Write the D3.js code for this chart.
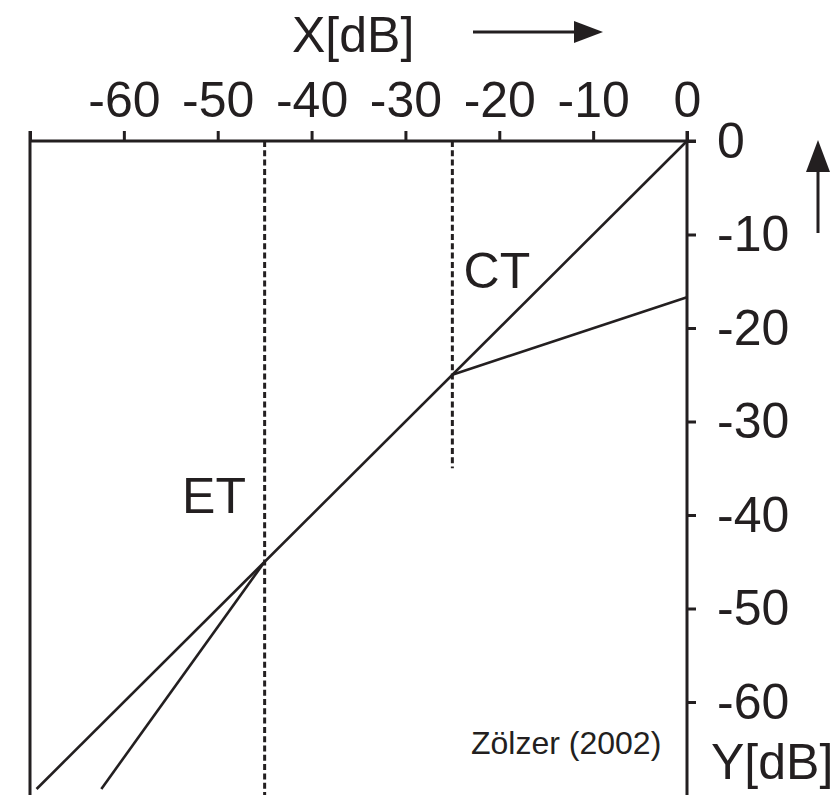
<!DOCTYPE html>
<html>
<head>
<meta charset="utf-8">
<script src="https://cdn.jsdelivr.net/npm/d3@7"></script>
<style>
  html, body { margin: 0; padding: 0; background: #fff; }
  svg { display: block; }
  text { font-family: "Liberation Sans", Arial, Helvetica, sans-serif; fill: #231f20; }
</style>
</head>
<body>
<svg id="chart" width="834" height="795"></svg>
<script>
// Static characteristic of a dynamics processor: input level X vs output level Y (dB)
const xTicks = [-70, -60, -50, -40, -30, -20, -10, 0];
const yTicks = [0, -10, -20, -30, -40, -50, -60];

// Curve segments, [input dB, output dB]
const unityLine      = [[0, 0], [-69.3, -69.3]];
const compressorLine = [[-25, -25], [0, -16.7]];
const expanderLine   = [[-45, -45], [-62.4, -69.3]];

// Thresholds: expander (ET) and compressor (CT)
const thresholds = [
  { name: "ET", x: -45, yEnd: -70 },
  { name: "CT", x: -25, yEnd: -35 }
];
const thresholdLabels = [
  { name: "ET", x: -53.8, y: -39.8 },
  { name: "CT", x: -23.8, y: -15.7 }
];
const sourceNote = "Zölzer (2002)";

const svg = d3.select("#chart");
const ink = "#231f20";

const x = d3.scaleLinear().domain([-70, 0]).range([30, 687]);
const y = d3.scaleLinear().domain([-70, 0]).range([795.5, 141]);

// Top axis (input level)
const xAxis = d3.axisTop(x)
  .tickValues(xTicks)
  .tickSize(10)
  .tickPadding(14)
  .tickFormat(d => d === -70 ? "" : String(d));
const gx = svg.append("g").attr("transform", `translate(0,${y(0)})`).call(xAxis);
gx.select(".domain").attr("d", `M${x(-70)},0H${x(0) + 9}`);

// Right axis (output level)
const yAxis = d3.axisRight(y)
  .tickValues(yTicks)
  .tickSize(9)
  .tickPadding(21)
  .tickFormat(d => String(d));
const gy = svg.append("g").attr("transform", `translate(${x(0)},0)`).call(yAxis);
gy.select(".domain").attr("d", `M0,${y(0) - 10}V795`);

// Left frame line
svg.append("line")
  .attr("x1", x(-70)).attr("x2", x(-70))
  .attr("y1", y(0) - 10).attr("y2", 795)
  .attr("stroke", ink).attr("stroke-width", 3);

[gx, gy].forEach(g => {
  g.attr("font-family", null).attr("font-size", null);
  g.selectAll(".domain, .tick line").attr("stroke", ink).attr("stroke-width", 3);
  g.selectAll(".tick text")
    .attr("fill", ink)
    .style("font-size", "50px");
});

// Threshold markers
svg.append("g").selectAll("line")
  .data(thresholds)
  .join("line")
  .attr("x1", d => x(d.x)).attr("x2", d => x(d.x))
  .attr("y1", y(0)).attr("y2", d => y(d.yEnd))
  .attr("stroke", ink)
  .attr("stroke-width", 3)
  .attr("stroke-dasharray", "6,3.3");

// Characteristic curves
const line = d3.line().x(d => x(d[0])).y(d => y(d[1]));
svg.append("g").selectAll("path")
  .data([unityLine, compressorLine, expanderLine])
  .join("path")
  .attr("d", line)
  .attr("fill", "none")
  .attr("stroke", ink)
  .attr("stroke-width", 2.6);

// Threshold labels
svg.append("g").selectAll("text")
  .data(thresholdLabels)
  .join("text")
  .attr("x", d => x(d.x))
  .attr("y", d => y(d.y))
  .style("font-size", "50px")
  .text(d => d.name);

// Axis titles with direction arrows
svg.append("text").attr("x", 292).attr("y", 52).style("font-size", "50px").text("X[dB]");
svg.append("line")
  .attr("x1", 473).attr("x2", 578).attr("y1", 32).attr("y2", 32)
  .attr("stroke", ink).attr("stroke-width", 3);
svg.append("path")
  .attr("d", "M574,21L603,32L574,43Z")
  .attr("fill", ink);

svg.append("text").attr("x", 711).attr("y", 779).style("font-size", "50px").text("Y[dB]");
svg.append("line")
  .attr("x1", 818).attr("x2", 818).attr("y1", 233).attr("y2", 168)
  .attr("stroke", ink).attr("stroke-width", 3);
svg.append("path")
  .attr("d", "M806,172L818,140L830,172Z")
  .attr("fill", ink);

// Source note
svg.append("text").attr("x", 471).attr("y", 754).style("font-size", "32px").text(sourceNote);
</script>
</body>
</html>
